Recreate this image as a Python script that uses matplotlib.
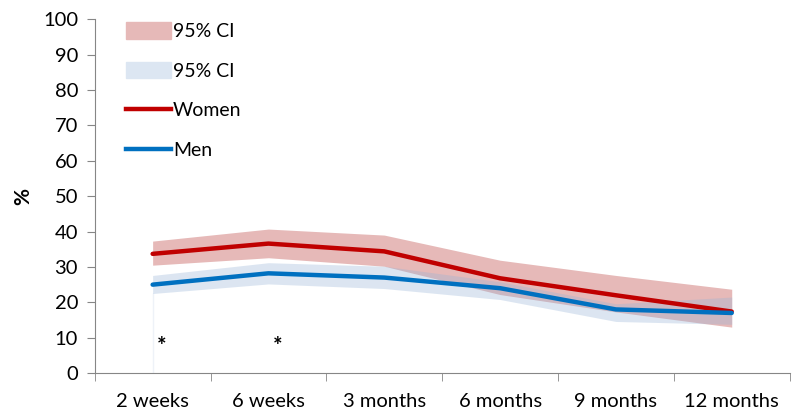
import numpy as np
import matplotlib.pyplot as plt
from matplotlib.patches import Patch
from matplotlib.lines import Line2D

# data
periods = ['2 weeks', '6 weeks', '3 months', '6 months', '9 months', '12 months']
women = [33.7, 36.6, 34.4, 26.8, 22.0, 17.4]
women_lo = [30.5, 32.6, 30.2, 22.2, 17.3, 13.0]
women_hi = [37.3, 40.7, 39.0, 31.9, 27.6, 23.7]
men = [25.0, 28.2, 27.0, 24.0, 18.0, 17.0]
men_lo = [22.5, 25.2, 23.9, 20.8, 14.6, 13.8]
men_hi = [27.6, 31.2, 30.2, 25.8, 19.6, 21.5]
star_periods = ['2 weeks', '6 weeks']

plt.rcParams['font.family'] = ['Lato', 'DejaVu Sans']

fig = plt.figure(figsize=(7.96, 4.16), dpi=100)
ax = fig.add_axes([0.119, 0.103, 0.873, 0.851])

x = np.arange(len(periods))
ax.fill_between(x, women_lo, women_hi, color='#E6B9B8', lw=0, zorder=1)
ax.fill_between(x, men_lo, men_hi, color='#95B3D7', alpha=0.33, lw=0, zorder=2)
ax.plot(x, women, color='#C00000', lw=3.2, solid_capstyle='round', zorder=4)
ax.plot(x, men, color='#0070C0', lw=3.2, solid_capstyle='round', zorder=5)
ax.vlines(0, 0, men_lo[0], color='#EEF2F8', lw=1, zorder=0)

for p in star_periods:
    ax.text(periods.index(p) + 0.08, 7.5, '*', ha='center', va='center',
            fontsize=16, fontweight='bold')

ax.set_xlim(-0.5, len(periods) - 0.5)
ax.set_ylim(0, 100)
ax.set_yticks(range(0, 101, 10))
ax.set_xticks(x)
ax.set_xticklabels(periods)
ax.set_xticks(np.arange(-0.5, len(periods), 1), minor=True)
ax.tick_params(axis='x', which='major', length=0, pad=14, labelsize=14.5)
ax.tick_params(axis='x', which='minor', length=6, direction='out', color='#868686')
ax.tick_params(axis='y', length=6, direction='out', color='#868686', labelsize=14.5, pad=6)
for s in ['top', 'right']:
    ax.spines[s].set_visible(False)
for s in ['left', 'bottom']:
    ax.spines[s].set_color('#868686')
ax.set_ylabel('%', fontsize=15, fontweight='bold', labelpad=7)

handles = [Patch(color='#E6B9B8', label='95% CI'),
           Patch(color='#DCE6F2', label='95% CI'),
           Line2D([], [], color='#C00000', lw=3.2, label='Women'),
           Line2D([], [], color='#0070C0', lw=3.2, label='Men')]
ax.legend(handles=handles, loc='upper left', bbox_to_anchor=(0.02, 1.04),
          frameon=False, fontsize=14, labelspacing=1.12, handlelength=2.3,
          handleheight=0.9, handletextpad=0.1)

fig.savefig('out.png', dpi=100)
